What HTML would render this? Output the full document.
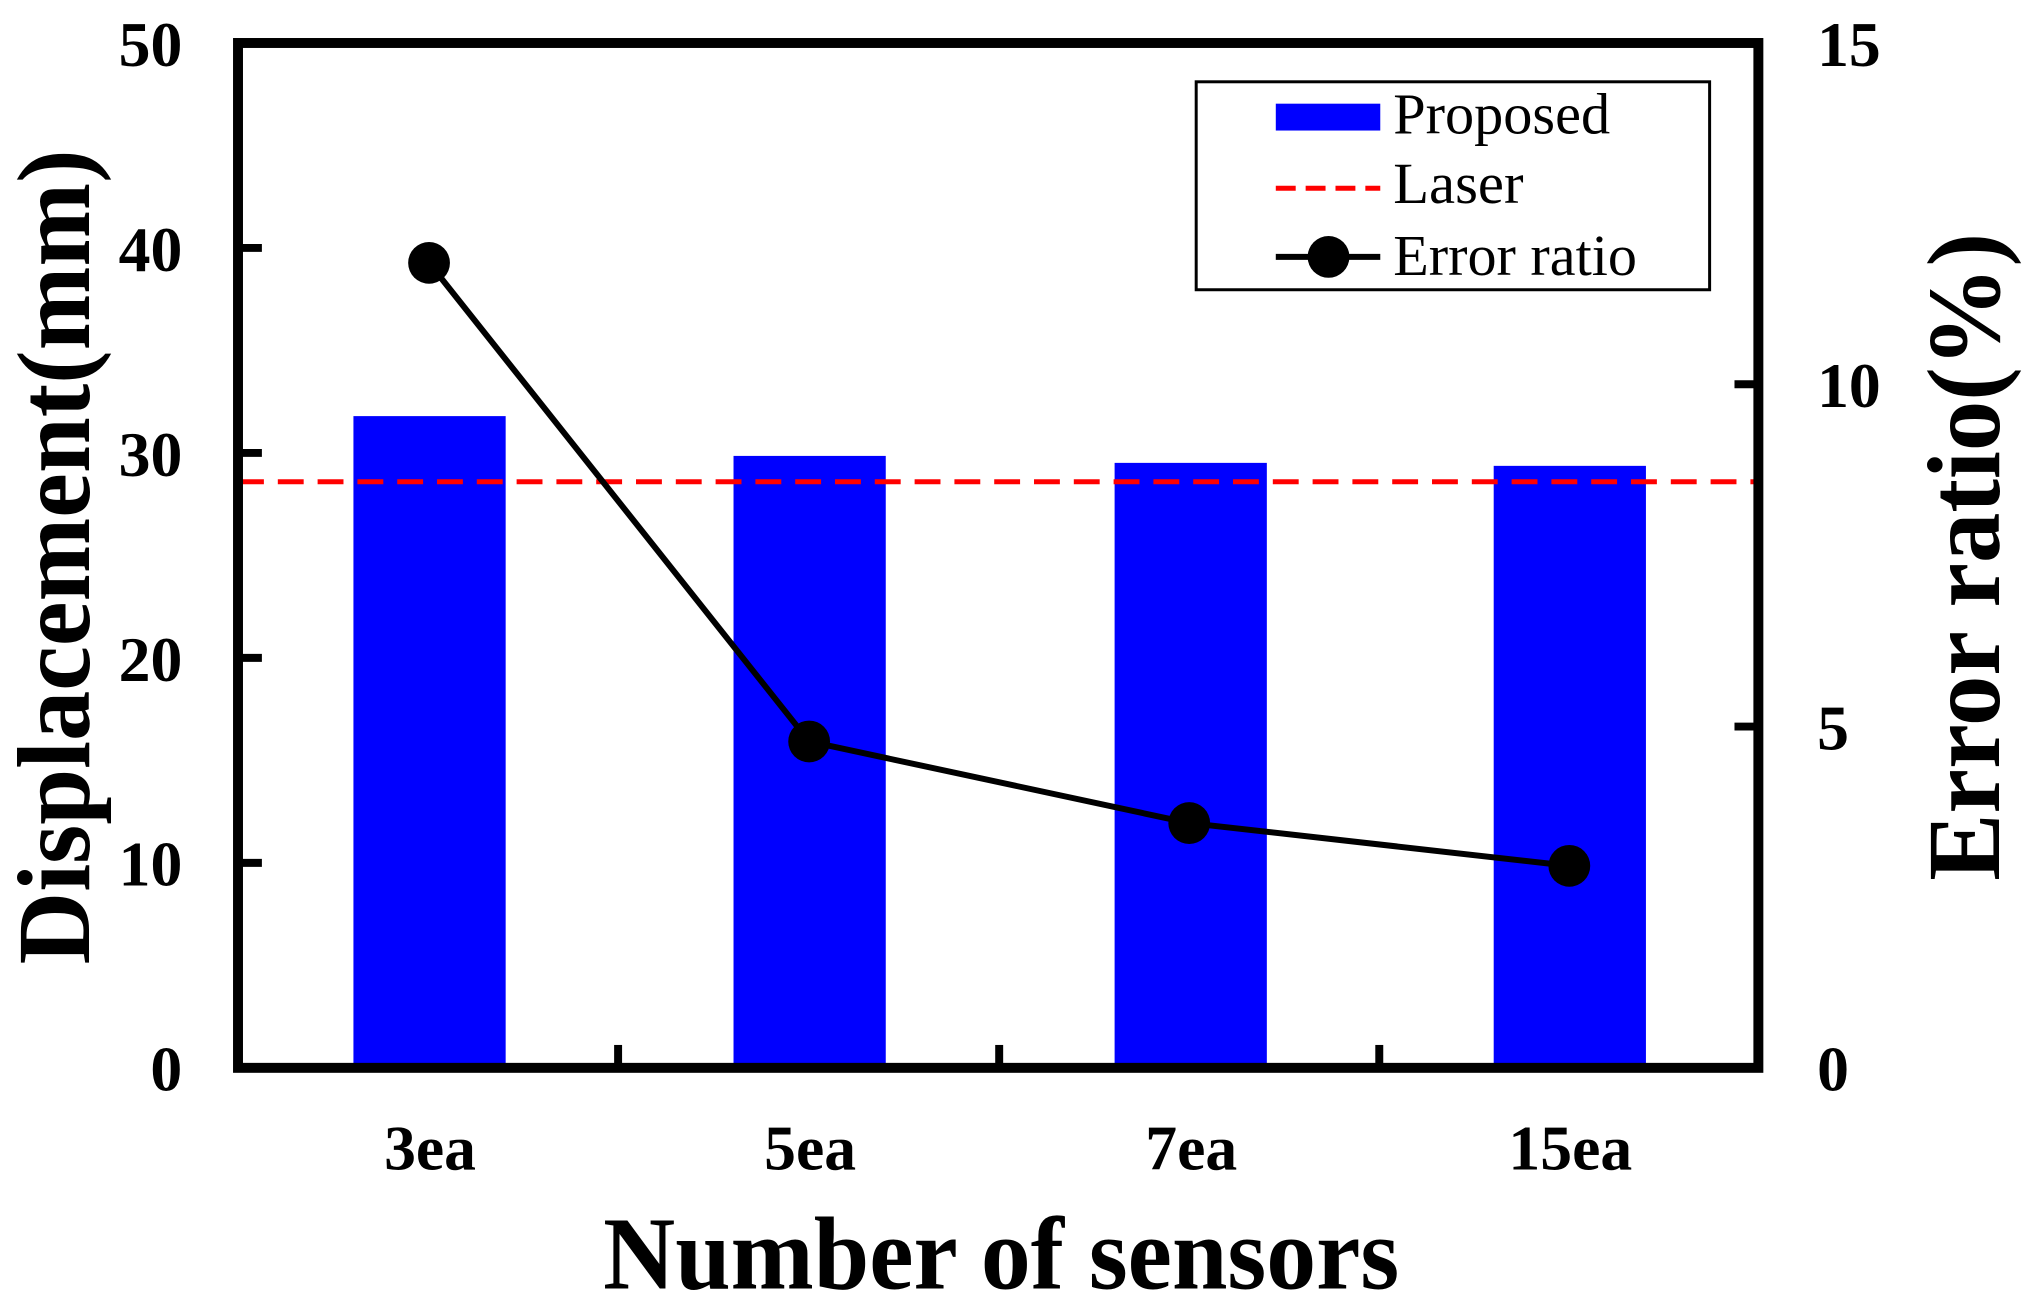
<!DOCTYPE html>
<html><head><style>body{margin:0;background:#fff}svg{display:block}</style></head><body>
<svg width="2030" height="1313" xmlns="http://www.w3.org/2000/svg" font-family="Liberation Serif, serif" font-weight="bold">
<g transform="translate(1.2,0.2) scale(0.995)">
<g fill="#0000ff">
<rect x="354" y="418" width="153" height="655"/>
<rect x="736" y="458" width="153" height="615"/>
<rect x="1119" y="465" width="153" height="608"/>
<rect x="1500" y="468" width="153" height="605"/>
</g>
<line x1="238" y1="484" x2="1766" y2="484" stroke="#ff0000" stroke-width="5" stroke-dasharray="26,14"/>
<polyline points="430,264 812,745 1194,827 1576,870" fill="none" stroke="#000" stroke-width="6"/>
<g fill="#000"><circle cx="430" cy="264" r="21"/><circle cx="812" cy="745" r="21"/><circle cx="1194" cy="827" r="21"/><circle cx="1576" cy="870" r="21"/></g>
<rect x="238" y="43" width="1528" height="1030" fill="none" stroke="#000" stroke-width="10"/>
<g stroke="#000" stroke-width="8">
<line x1="238" y1="867" x2="262" y2="867"/><line x1="238" y1="661" x2="262" y2="661"/><line x1="238" y1="455" x2="262" y2="455"/><line x1="238" y1="249" x2="262" y2="249"/>
<line x1="1766" y1="730" x2="1742" y2="730"/><line x1="1766" y1="386" x2="1742" y2="386"/>
<line x1="620" y1="1073" x2="620" y2="1050"/><line x1="1003" y1="1073" x2="1003" y2="1050"/><line x1="1385" y1="1073" x2="1385" y2="1050"/>
</g>
<g font-size="64" text-anchor="end">
<text x="182" y="1096">0</text><text x="182" y="890">10</text><text x="182" y="684">20</text><text x="182" y="478">30</text><text x="182" y="272">40</text><text x="182" y="66">50</text>
</g>
<g font-size="64" text-anchor="start">
<text x="1825" y="1096">0</text><text x="1825" y="753">5</text><text x="1825" y="409">10</text><text x="1825" y="66">15</text>
</g>
<g font-size="64" text-anchor="middle">
<text x="431" y="1175">3ea</text><text x="813" y="1175">5ea</text><text x="1196" y="1175">7ea</text><text x="1577" y="1175">15ea</text>
</g>
<text x="605" y="1295" font-size="104" textLength="800" lengthAdjust="spacingAndGlyphs">Number of sensors</text>
<text transform="translate(88,969) rotate(-90)" font-size="104" textLength="819" lengthAdjust="spacingAndGlyphs">Displacement(mm)</text>
<text transform="translate(2008,885) rotate(-90)" font-size="104" textLength="651" lengthAdjust="spacingAndGlyphs">Error ratio(%)</text>
<rect x="1201" y="82" width="516" height="209" fill="#fff" stroke="#000" stroke-width="3"/>
<rect x="1281" y="104" width="105" height="27" fill="#0000ff"/>
<line x1="1281" y1="189" x2="1386" y2="189" stroke="#ff0000" stroke-width="5" stroke-dasharray="20,10"/>
<line x1="1281" y1="258" x2="1386" y2="258" stroke="#000" stroke-width="6"/>
<circle cx="1334" cy="258" r="21" fill="#000"/>
<g font-size="58" font-weight="normal">
<text x="1399" y="134" textLength="218" lengthAdjust="spacingAndGlyphs">Proposed</text>
<text x="1399" y="204" textLength="131" lengthAdjust="spacingAndGlyphs">Laser</text>
<text x="1399" y="276" textLength="245" lengthAdjust="spacingAndGlyphs">Error ratio</text>
</g>
</g>
</svg>
</body></html>
